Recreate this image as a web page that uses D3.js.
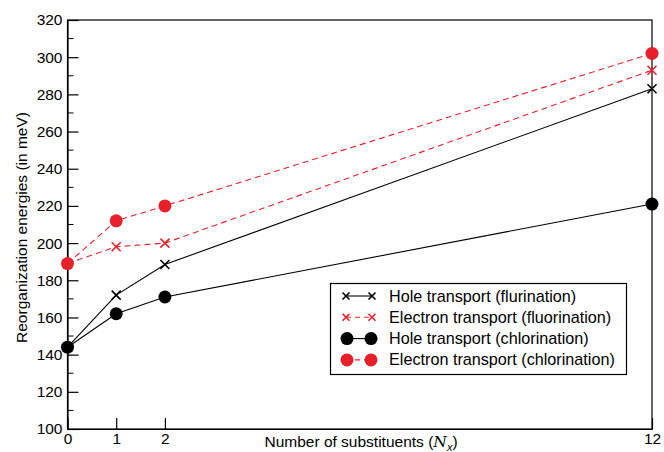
<!DOCTYPE html>
<html>
<head>
<meta charset="utf-8">
<script src="https://cdn.jsdelivr.net/npm/d3@7"></script>
<style>
  body { margin: 0; background: #fff; }
  text { font-family: "Liberation Sans", Arial, sans-serif; fill: #000; }
</style>
</head>
<body>
<div class="chart"></div>
<script>
const w = 664;
const h = 452;
const margin = { top: 20, right: 12, bottom: 23, left: 67.5 };

// data
const substituents = [0, 1, 2, 12];
const holeFluor = [144, 172, 188.5, 283];
const electronFluor = [189, 198, 200, 293];
const holeChlor = [144, 162, 171, 221];
const electronChlor = [189, 212, 220, 302];
const yTicks = [100, 120, 140, 160, 180, 200, 220, 240, 260, 280, 300, 320];
const xTicks = [0, 1, 2, 12];

const red = "#e8202a";

const series = [
  { name: "Hole transport (flurination)", values: holeFluor, color: "#000", dash: null, marker: "x" },
  { name: "Electron transport (fluorination)", values: electronFluor, color: red, dash: "6,4", marker: "x" },
  { name: "Hole transport (chlorination)", values: holeChlor, color: "#000", dash: null, marker: "o" },
  { name: "Electron transport (chlorination)", values: electronChlor, color: red, dash: "6,4", marker: "o" }
];

const svg = d3.select(".chart").append("svg").attr("width", w).attr("height", h);

const xScale = d3.scaleLinear().domain([0, 12]).range([margin.left, w - margin.right]);
const yScale = d3.scaleLinear().domain([100, 320]).range([h - margin.bottom, margin.top]);

// minor ticks on y
const minor = d3.range(110, 320, 20);
svg.append("g")
  .selectAll("line")
  .data(minor)
  .enter()
  .append("line")
  .attr("x1", xScale(0))
  .attr("x2", xScale(0) + 6)
  .attr("y1", (d) => yScale(d))
  .attr("y2", (d) => yScale(d))
  .attr("stroke", "#000");

// axes, ticks pointing inward
const yAxis = d3.axisLeft(yScale).tickValues(yTicks).tickSizeInner(-11).tickSizeOuter(0).tickPadding(5);
const gy = svg.append("g").attr("transform", `translate(${xScale(0)},0)`).call(yAxis);
gy.selectAll("text").style("font-size", "15.5px").attr("x", -5);

const xAxis = d3.axisBottom(xScale).tickValues(xTicks).tickSizeInner(-11).tickSizeOuter(0).tickPadding(5);
const gx = svg.append("g").attr("transform", `translate(0,${yScale(100)})`).call(xAxis);
gx.selectAll("text").style("font-size", "15.5px").attr("y", 4);

svg.selectAll(".domain, .tick line").attr("stroke", "#000").attr("stroke-width", 1.2);

// frame
svg.append("rect")
  .attr("x", xScale(0))
  .attr("y", yScale(320))
  .attr("width", xScale(12) - xScale(0))
  .attr("height", yScale(100) - yScale(320))
  .attr("fill", "none")
  .attr("stroke", "#000")
  .attr("stroke-width", 1.2);

const line = d3.line()
  .x((d, i) => xScale(substituents[i]))
  .y((d) => yScale(d));

function drawMarker(g, type, color, x, y) {
  if (type === "o") {
    g.append("circle").attr("cx", x).attr("cy", y).attr("r", 6.5).attr("fill", color);
  } else {
    const s = 4.5;
    g.append("path")
      .attr("d", `M${x - s},${y - s}L${x + s},${y + s}M${x - s},${y + s}L${x + s},${y - s}`)
      .attr("stroke", color)
      .attr("stroke-width", 1.6);
  }
}

series.forEach((s) => {
  svg.append("path")
    .datum(s.values)
    .attr("d", line)
    .attr("fill", "none")
    .attr("stroke", s.color)
    .attr("stroke-width", 1.1)
    .attr("stroke-dasharray", s.dash);
  const g = svg.append("g");
  s.values.forEach((v, i) => drawMarker(g, s.marker, s.color, xScale(substituents[i]), yScale(v)));
});

// legend
const legend = svg.append("g");
legend.append("rect")
  .attr("x", 330.5).attr("y", 283.5).attr("width", 296).attr("height", 91)
  .attr("fill", "#fff").attr("stroke", "#000").attr("stroke-width", 1.2);

series.forEach((s, i) => {
  const y = 296 + i * 21.3;
  legend.append("line")
    .attr("x1", 346).attr("x2", 372).attr("y1", y).attr("y2", y)
    .attr("stroke", s.color).attr("stroke-width", 1.1)
    .attr("stroke-dasharray", s.dash ? "5,4" : null);
  if (s.marker === "o") {
    drawMarker(legend, "o", s.color, 347, y);
    drawMarker(legend, "o", s.color, 371, y);
  } else {
    const g = legend.append("g");
    const sz = 3.5;
    [346, 372].forEach((x) => {
      g.append("path")
        .attr("d", `M${x - sz},${y - sz}L${x + sz},${y + sz}M${x - sz},${y + sz}L${x + sz},${y - sz}`)
        .attr("stroke", s.color).attr("stroke-width", 1.6);
    });
  }
  legend.append("text")
    .attr("x", 389).attr("y", y + 5.5)
    .style("font-size", "16.2px")
    .text(s.name);
});

// axis labels
const xl = svg.append("text")
  .attr("x", 361).attr("y", 447)
  .attr("text-anchor", "middle")
  .style("font-size", "15.5px");
xl.append("tspan").text("Number of substituents (");
xl.append("tspan").style("font-family", "'DejaVu Serif', 'Liberation Serif', serif").style("font-style", "italic").text("N");
xl.append("tspan").attr("dy", 4).style("font-size", "11px").style("font-style", "italic").text("x");
xl.append("tspan").attr("dy", -4).text(")");

svg.append("text")
  .attr("transform", `translate(27,${(yScale(100) + yScale(320)) / 2 + 3}) rotate(-90)`)
  .attr("text-anchor", "middle")
  .style("font-size", "15.5px")
  .text("Reorganization energies (in meV)");
</script>
</body>
</html>
